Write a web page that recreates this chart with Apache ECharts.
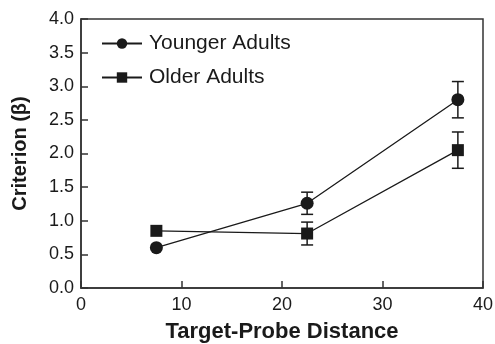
<!DOCTYPE html>
<html>
<head>
<meta charset="utf-8">
<script src="https://cdn.jsdelivr.net/npm/echarts@6/dist/echarts.min.js"></script>
<style>
  html, body { margin: 0; padding: 0; background: #fff; }
  #chart { width: 495px; height: 344px; }
</style>
</head>
<body>
<div id="chart"></div>
<script>
// distances (x) and criterion means / SE
const distances = [7.5, 22.5, 37.5]
const youngerMean = [0.60, 1.26, 2.80]
const youngerErr = [0, 0.165, 0.27]
const olderMean = [0.85, 0.81, 2.05]
const olderErr = [0, 0.17, 0.27]
const xTicks = [0, 10, 20, 30, 40]
const yTicks = [0, 0.5, 1.0, 1.5, 2.0, 2.5, 3.0, 3.5, 4.0]

const INK = '#1a1a1a'
const FONT = 'Liberation Sans, Arial, sans-serif'

const pts = (ys) => distances.map((x, i) => [x, ys[i]])
const bars = (ys, es) =>
  distances.map((x, i) => [x, ys[i] - es[i], ys[i] + es[i]]).filter((d) => d[2] > d[1])

function errorBar(params, api) {
  const x = api.value(0)
  const lo = api.coord([x, api.value(1)])
  const hi = api.coord([x, api.value(2)])
  const w = 6
  const style = { stroke: INK, lineWidth: 1.5 }
  return {
    type: 'group',
    children: [
      { type: 'line', shape: { x1: lo[0], y1: lo[1], x2: hi[0], y2: hi[1] }, style },
      { type: 'line', shape: { x1: hi[0] - w, y1: hi[1], x2: hi[0] + w, y2: hi[1] }, style },
      { type: 'line', shape: { x1: lo[0] - w, y1: lo[1], x2: lo[0] + w, y2: lo[1] }, style },
    ],
  }
}

const chart = echarts.init(document.getElementById('chart'), null, { renderer: 'canvas' })

chart.setOption({
  animation: false,
  textStyle: { fontFamily: FONT, color: INK },
  grid: {
    left: 81, right: 12, top: 19, bottom: 56,
    outerBoundsMode: 'none',
    show: true, borderColor: '#333', borderWidth: 1.5, backgroundColor: 'transparent',
  },
  legend: {
    orient: 'vertical',
    left: 101,
    top: 33,
    padding: 0,
    itemWidth: 40,
    itemHeight: 13,
    itemGap: 13,
    textStyle: { fontSize: 21, color: INK, fontFamily: FONT, padding: [0, 0, 0, 2] },
    data: ['Younger Adults', 'Older Adults'],
  },
  xAxis: {
    type: 'value',
    min: xTicks[0],
    max: xTicks[xTicks.length - 1],
    interval: xTicks[1] - xTicks[0],
    name: 'Target-Probe Distance',
    nameLocation: 'middle',
    nameGap: 33,
    nameTextStyle: { fontSize: 22, fontWeight: 'bold', color: INK, fontFamily: FONT },
    axisLine: { show: true, lineStyle: { color: '#333', width: 1.5 } },
    axisTick: { show: true, inside: true, length: 7, lineStyle: { color: '#333', width: 1.5 } },
    axisLabel: { fontSize: 18, color: INK, margin: 8, fontFamily: FONT },
    splitLine: { show: false },
  },
  yAxis: {
    type: 'value',
    min: yTicks[0],
    max: yTicks[yTicks.length - 1],
    interval: yTicks[1] - yTicks[0],
    name: 'Criterion (β)',
    nameLocation: 'middle',
    nameGap: 51,
    nameTextStyle: { fontSize: 20, fontWeight: 'bold', color: INK, fontFamily: FONT },
    axisLine: { show: true, lineStyle: { color: '#333', width: 1.5 } },
    axisTick: { show: true, inside: true, length: 7, lineStyle: { color: '#333', width: 1.5 } },
    axisLabel: {
      fontSize: 18, color: INK, margin: 7, fontFamily: FONT,
      formatter: (v) => v.toFixed(1),
    },
    splitLine: { show: false },
  },
  series: [
    {
      name: 'Younger Adults',
      type: 'line',
      data: pts(youngerMean),
      symbol: 'circle',
      symbolSize: 13,
      itemStyle: { color: INK },
      lineStyle: { color: INK, width: 1.3 },
      z: 3,
    },
    {
      name: 'Older Adults',
      type: 'line',
      data: pts(olderMean),
      symbol: 'rect',
      symbolSize: 12,
      itemStyle: { color: INK },
      lineStyle: { color: INK, width: 1.3 },
      z: 3,
    },
    {
      type: 'custom',
      renderItem: errorBar,
      data: bars(youngerMean, youngerErr),
      z: 2,
    },
    {
      type: 'custom',
      renderItem: errorBar,
      data: bars(olderMean, olderErr),
      z: 2,
    },
  ],
})
</script>
</body>
</html>
